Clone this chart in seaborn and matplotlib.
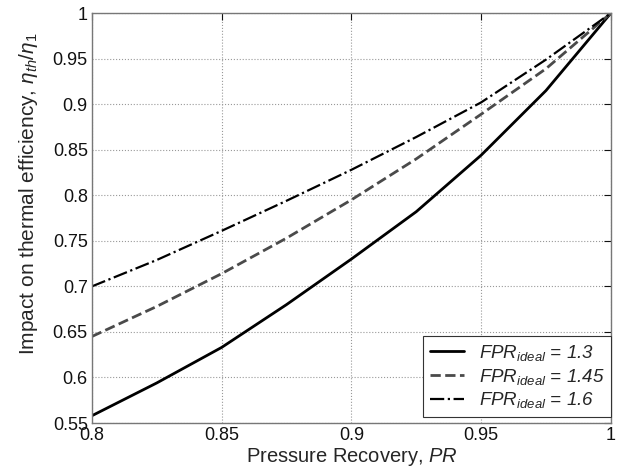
import numpy as np
import pandas as pd
import seaborn as sns
import matplotlib.pyplot as plt

# values
pr = [0.8, 0.825, 0.85, 0.875, 0.9, 0.925, 0.95, 0.975, 1.0]
eta_13 = [0.558, 0.594, 0.633, 0.680, 0.730, 0.782, 0.844, 0.915, 1.0]
eta_145 = [0.645, 0.678, 0.714, 0.753, 0.795, 0.840, 0.889, 0.939, 1.0]
eta_16 = [0.700, 0.729, 0.761, 0.794, 0.828, 0.864, 0.902, 0.949, 1.0]
fpr_labels = ['1.3', '1.45', '1.6']

sns.set_theme(style='white')
plt.rcParams['font.family'] = ['Liberation Sans', 'DejaVu Sans']
plt.rcParams['mathtext.fontset'] = 'custom'
plt.rcParams['mathtext.it'] = 'Liberation Sans:italic'
plt.rcParams['mathtext.rm'] = 'Liberation Sans'
plt.rcParams['mathtext.bf'] = 'Liberation Sans:bold'

fig = plt.figure(figsize=(6.17, 4.70), dpi=100)
ax = fig.add_axes([0.149, 0.100, 0.841, 0.872])

series = [eta_13, eta_145, eta_16]
colors = ['black', '#4a4a4a', 'black']
styles = ['-', '--', '-.']
widths = [2.0, 2.0, 1.6]
for vals, lab, c, ls, lw in zip(series, fpr_labels, colors, styles, widths):
    sns.lineplot(x=pr, y=vals, ax=ax, color=c, linestyle=ls, linewidth=lw,
                 label=r'$FPR_{ideal}$ = ' + lab)

ax.set_xlim(0.8, 1.0)
ax.set_ylim(0.55, 1.0)
ax.set_xticks([0.8, 0.85, 0.9, 0.95, 1.0])
ax.set_xticklabels(['0.8', '0.85', '0.9', '0.95', '1'])
ax.set_yticks(np.arange(0.55, 1.001, 0.05))
ax.set_yticklabels(['0.55', '0.6', '0.65', '0.7', '0.75', '0.8', '0.85', '0.9', '0.95', '1'])
ax.grid(True, linestyle=':', color='#999999', linewidth=0.8)
ax.tick_params(direction='in', top=True, right=True, length=5, width=0.8,
               labelsize=13, colors='#111111', pad=3)
for s in ax.spines.values():
    s.set_color('#777777')
    s.set_linewidth(1.0)

ax.set_xlabel('Pressure Recovery, $PR$', fontsize=14.5, labelpad=1)
ax.set_ylabel(r'Impact on thermal efficiency, $\eta_{th}/\eta_{1}$', fontsize=15)
ax.yaxis.set_label_coords(-0.10, 0.56)

leg = ax.legend(loc='lower right', bbox_to_anchor=(1.0, 0.015), borderaxespad=0,
                fancybox=False, framealpha=1, edgecolor='#333333',
                prop={'style': 'italic', 'size': 13.5}, handlelength=1.8,
                labelspacing=0.2, borderpad=0.35)
leg.get_frame().set_linewidth(0.8)

fig.savefig('out.png', dpi=100)
